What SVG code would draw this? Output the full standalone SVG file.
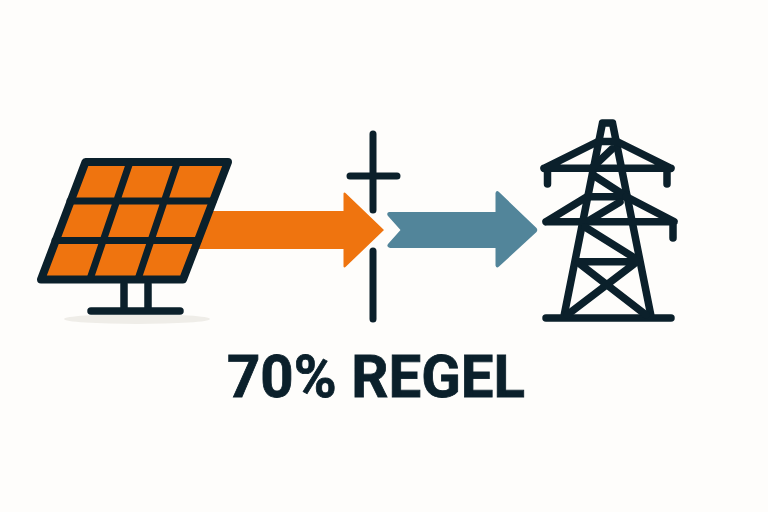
<svg xmlns="http://www.w3.org/2000/svg" width="768" height="512" viewBox="0 0 768 512">
<style>
.ln{fill:none;stroke:#0b202b;stroke-width:7.500;stroke-linecap:round;stroke-linejoin:round}
.gd{stroke-width:7}
.t{font-family:"Roboto","Liberation Sans",sans-serif;font-weight:700;font-size:59px;fill:#0b202b;stroke:#0b202b;stroke-width:0.800}
</style>
<rect width="768" height="512" fill="#fefdfb"/>
<g id="solar-panel">
<ellipse cx="137" cy="319" rx="73" ry="5" fill="#efede8"/>
<path class="ln" d="M124 284V311M148 284V311M91 311H180"/>
</g>
<g id="connectors">
<path d="M200 211H343.500V193.500Q344 191.500 346 193.500L384 230L346 266.500Q344 268.500 343.500 266.500V249H190Z" fill="#ef740f"/>
<path d="M389 212H495.500V193Q496.500 189.500 499 192L536.500 228Q538 230 536.500 232L499 266.500Q496.500 269 495.500 265.500V248H390Q386 247 388 244L400.500 230L388 216Q386 213 389 212Z" fill="#52859a"/>
</g>
<g id="panel-face">
<path d="M85.500 162H228L183 279.500H41Z" fill="#ef740f" stroke="#0b202b" stroke-width="8" stroke-linejoin="round"/>
<path class="ln gd" d="M70 201H213M55 240.500H198M130 162L90 279M177.500 162L138 279"/>
</g>
<g id="grid-limit">
<path class="ln gd" d="M373 134V210M373 251V319M350 176H397"/>
</g>
<g id="pylon">
<path class="ln" d="M602.500 123H612.500M602.500 123L564 316M612.500 123L651 316M546 318H671"/>
<path class="ln" d="M544 168.300H671M544 168.300L598 141.500H617L671 168.300M547.500 170V184M667 170V184"/>
<path class="ln" d="M612 149L593 167M593 175L627 197M588 196.700H626"/>
<path class="ln" d="M546 221.700H674M546 221.700L587 196.700M626 196.700L674 221.700M673 222V238M620 202L587 221.700"/>
<path class="ln" d="M585 227L633 257M579 261.700H638M580 264L646 315M634 264L567 315"/>
</g>
<g id="label">
<text class="t" x="376" y="397" text-anchor="middle" textLength="298" lengthAdjust="spacingAndGlyphs">70% REGEL</text>
</g>
</svg>
